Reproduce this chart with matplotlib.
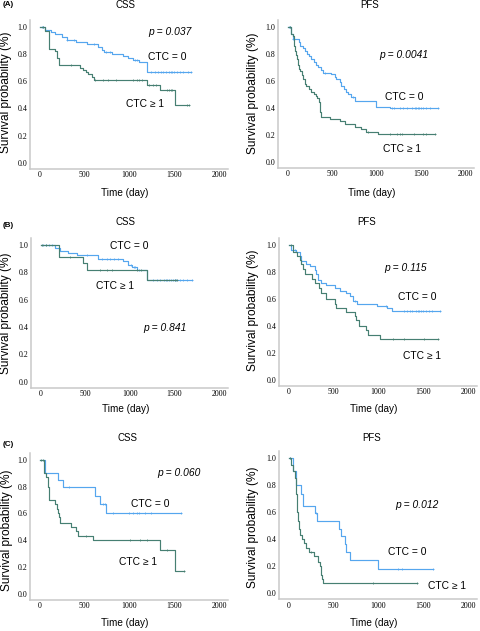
import numpy as np
import matplotlib
matplotlib.use("Agg")
import matplotlib.pyplot as plt

# ---------------- data ----------------
# (A) CSS
a_css0_t = [0, 60, 120, 170, 250, 300, 400, 530, 650, 690, 720, 800, 930, 980, 1040, 1110, 1200]
a_css0_s = [1.0, 0.975, 0.96, 0.945, 0.925, 0.905, 0.89, 0.87, 0.85, 0.83, 0.815, 0.80, 0.785, 0.77, 0.755, 0.74, 0.67]
a_css0_c = [20, 40, 300, 380, 600, 740, 780, 1060, 1080, 1240, 1280, 1320, 1350, 1380, 1410, 1440, 1460,
            1480, 1500, 1530, 1560, 1600, 1650, 1690]
a_css1_t = [0, 56, 104, 168, 190, 216, 447, 484, 514, 540, 577, 600, 1192, 1341, 1508]
a_css1_s = [1.0, 0.97, 0.84, 0.82, 0.77, 0.72, 0.70, 0.68, 0.665, 0.65, 0.63, 0.61, 0.575, 0.532, 0.426]
a_css1_c = [30, 350, 610, 700, 760, 850, 1040, 1080, 1110, 1140, 1220, 1260, 1300, 1420, 1440, 1460,
            1480, 1640, 1670]
# (A) PFS
a_pfs0_t = [0, 40, 57, 125, 143, 170, 189, 219, 245, 264, 291, 313, 340, 377, 396, 491, 528, 547, 585,
            604, 630, 660, 679, 717, 755, 1000, 1151]
a_pfs0_s = [1.0, 0.95, 0.91, 0.89, 0.86, 0.84, 0.82, 0.80, 0.78, 0.76, 0.74, 0.72, 0.70, 0.68, 0.66, 0.65,
            0.63, 0.61, 0.59, 0.56, 0.54, 0.52, 0.50, 0.48, 0.45, 0.41, 0.40]
a_pfs0_c = [15, 30, 60, 420, 740, 1170, 1200, 1260, 1300, 1350, 1400, 1440, 1450, 1470, 1480, 1500, 1520,
            1560, 1600, 1690]
a_pfs1_t = [0, 38, 57, 68, 75, 87, 94, 102, 113, 125, 140, 155, 170, 189, 208, 234, 264, 291, 313, 332,
            347, 358, 366, 374, 480, 585, 642, 755, 830, 879, 1019]
a_pfs1_s = [1.0, 0.95, 0.93, 0.90, 0.86, 0.82, 0.79, 0.76, 0.72, 0.69, 0.67, 0.64, 0.61, 0.58, 0.56, 0.54,
            0.52, 0.50, 0.49, 0.47, 0.44, 0.40, 0.37, 0.33, 0.32, 0.30, 0.28, 0.26, 0.24, 0.225, 0.21]
a_pfs1_c = [20, 900, 1150, 1230, 1260, 1290, 1420, 1530, 1560, 1660]
# (B) CSS
b_css0_t = [0, 160, 220, 300, 405, 645, 925, 980, 1020, 1080, 1187]
b_css0_s = [1.0, 0.975, 0.955, 0.94, 0.927, 0.90, 0.88, 0.855, 0.835, 0.82, 0.74]
b_css0_c = [30, 60, 90, 130, 520, 690, 740, 780, 820, 870, 1010, 1040, 1060, 1100, 1260, 1300, 1340,
            1380, 1400, 1420, 1440, 1460, 1480, 1500, 1520, 1560, 1600, 1640, 1700]
b_css1_t = [0, 205, 478, 522, 1187]
b_css1_s = [1.0, 0.91, 0.87, 0.82, 0.74]
b_css1_c = [10, 60, 330, 660, 740, 800, 1080, 1120, 1500, 1530]
# (B) PFS
b_pfs0_t = [0, 26, 82, 120, 138, 194, 232, 295, 307, 325, 363, 419, 512, 568, 643, 680, 712, 760, 979,
            1092, 1148]
b_pfs0_s = [1.0, 0.96, 0.95, 0.92, 0.88, 0.86, 0.84, 0.81, 0.78, 0.74, 0.72, 0.70, 0.68, 0.66, 0.64,
            0.62, 0.585, 0.565, 0.55, 0.53, 0.51]
b_pfs0_c = [70, 740, 1080, 1290, 1320, 1350, 1380, 1420, 1440, 1450, 1470, 1500, 1530, 1560, 1600, 1690]
b_pfs1_t = [0, 45, 90, 120, 138, 157, 175, 262, 290, 333, 363, 419, 512, 530, 636, 736, 755, 785, 860,
            878, 1017]
b_pfs1_s = [1.0, 0.95, 0.92, 0.89, 0.86, 0.82, 0.78, 0.75, 0.72, 0.68, 0.64, 0.60, 0.56, 0.53, 0.50,
            0.47, 0.44, 0.40, 0.37, 0.33, 0.30]
b_pfs1_c = [20, 1160, 1290, 1510, 1660]
# (C) CSS
c_css0_t = [0, 56, 204, 260, 613, 669, 743]
c_css0_s = [1.0, 0.90, 0.85, 0.80, 0.73, 0.67, 0.60]
c_css0_c = [320, 700, 730, 820, 1000, 1040, 1080, 1110, 1170, 1240, 1580]
c_css1_t = [0, 48, 74, 93, 104, 167, 186, 204, 216, 223, 353, 409, 428, 595, 1338, 1506]
c_css1_s = [1.0, 0.9, 0.87, 0.8, 0.7, 0.67, 0.63, 0.6, 0.57, 0.53, 0.5, 0.47, 0.43, 0.4, 0.33, 0.17]
c_css1_c = [15, 30, 513, 1010, 1120, 1200, 1420, 1610]
# (C) PFS
c_pfs0_t = [0, 45, 82, 131, 157, 288, 314, 557, 587, 624, 636, 680, 998]
c_pfs0_s = [1.0, 0.9, 0.8, 0.73, 0.64, 0.59, 0.53, 0.47, 0.42, 0.36, 0.30, 0.24, 0.18]
c_pfs0_c = [10, 300, 1222, 1260, 1607]
c_pfs1_t = [0, 26, 45, 64, 75, 82, 90, 93, 101, 112, 127, 150, 168, 194, 224, 277, 325, 344, 355, 363,
            370, 381]
c_pfs1_s = [1.0, 0.95, 0.9, 0.85, 0.8, 0.73, 0.67, 0.6, 0.53, 0.47, 0.43, 0.4, 0.37, 0.33, 0.3, 0.27,
            0.23, 0.2, 0.17, 0.13, 0.1, 0.07]
c_pfs1_c = [10, 250, 942, 1428]

titles = ["CSS", "PFS"]
panel_labels = ["(A)", "(B)", "(C)"]
p_values = ["p = 0.037", "p = 0.0041", "p = 0.841", "p = 0.115", "p = 0.060", "p = 0.012"]
group_labels = ["CTC = 0", "CTC \u2265 1"]
x_ticks = [0, 500, 1000, 1500, 2000]
y_ticks = [0.0, 0.2, 0.4, 0.6, 0.8, 1.0]

BLUE = "#55a6ee"
GREEN = "#467f72"
SANS = "Liberation Sans"
SERIF = "Liberation Serif"

W, H = 480, 631
fig = plt.figure(figsize=(W / 100, H / 100), dpi=100)
fig.patch.set_facecolor("white")


def add_ax(l, r, t, b):
    return fig.add_axes([l / W, 1 - b / H, (r - l) / W, (b - t) / H])


def km(ax, t, s, c, color):
    t = np.asarray(t, float)
    s = np.asarray(s, float)
    c = np.asarray(c, float)
    end = max(c.max(), t.max())
    tt = np.append(t, end)
    ss = np.append(s, s[-1])
    ax.plot(tt, ss, drawstyle="steps-post", color=color, lw=0.85)
    idx = np.searchsorted(t, c, side="right") - 1
    ax.plot(c, s[idx], ls="none", marker="+", ms=2.0, mew=0.55, color=color)


boxes = [(30, 228, 20, 169), (278, 474, 20, 168),
         (31, 228, 238, 388), (279, 477, 238, 386),
         (30, 228, 453, 600), (279, 477, 451, 599)]

curves = [
    ((a_css0_t, a_css0_s, a_css0_c), (a_css1_t, a_css1_s, a_css1_c)),
    ((a_pfs0_t, a_pfs0_s, a_pfs0_c), (a_pfs1_t, a_pfs1_s, a_pfs1_c)),
    ((b_css0_t, b_css0_s, b_css0_c), (b_css1_t, b_css1_s, b_css1_c)),
    ((b_pfs0_t, b_pfs0_s, b_pfs0_c), (b_pfs1_t, b_pfs1_s, b_pfs1_c)),
    ((c_css0_t, c_css0_s, c_css0_c), (c_css1_t, c_css1_s, c_css1_c)),
    ((c_pfs0_t, c_pfs0_s, c_pfs0_c), (c_pfs1_t, c_pfs1_s, c_pfs1_c)),
]

# annotation positions (p, CTC=0, CTC>=1) in data coords
ann = [
    ((1207, 0.963), (1207, 0.78), (961, 0.434)),
    ((1028, 0.79), (1096, 0.48), (1073, 0.096)),
    ((1146, 0.39), (775, 0.99), (618, 0.70)),
    ((1061, 0.83), (1218, 0.615), (1274, 0.18)),
    ((1307, 0.90), (1017, 0.67), (885, 0.24)),
    ((1184, 0.65), (1106, 0.30), (1553, 0.05)),
]

title_y = [5, 5, 222, 222, 438, 438]
title_x = [125, 370, 125, 367, 127, 372]
xlabel_y = [193, 193, 409, 409, 623, 623]
ylabel_x = [6, 253, 6, 253, 7, 253]
ylabel_y = [92, 93, 313, 310, 530, 527]

for i, box in enumerate(boxes):
    ax = add_ax(*box)
    (g0, g1) = curves[i]
    km(ax, *g0, BLUE)
    km(ax, *g1, GREEN)
    ax.set_xlim(-110, 2100)
    ax.set_ylim(-0.045, 1.05)
    ax.set_xticks(x_ticks)
    ax.set_yticks(y_ticks)
    ax.set_xticklabels([str(v) for v in x_ticks], family=SERIF, fontsize=5.7)
    ax.set_yticklabels(["%.1f" % v for v in y_ticks], family=SERIF, fontsize=5.7)
    ax.tick_params(length=0, pad=1.8)
    for sp in ["top", "right"]:
        ax.spines[sp].set_visible(False)
    for sp in ["left", "bottom"]:
        ax.spines[sp].set_color("#c9c9c9")
        ax.spines[sp].set_linewidth(1.1)
    pp, c0, c1 = ann[i]
    ax.text(pp[0], pp[1], p_values[i], family=SANS, style="italic", fontsize=7.4, va="center", ha="left")
    ax.text(c0[0], c0[1], group_labels[0], family=[SANS, "DejaVu Sans"], fontsize=7.4, va="center", ha="left")
    ax.text(c1[0], c1[1], group_labels[1], family=[SANS, "DejaVu Sans"], fontsize=7.4, va="center", ha="left")

    fig.text(title_x[i] / W, 1 - title_y[i] / H, titles[i % 2], family=SANS, fontsize=7,
             ha="center", va="center")
    cx = (box[0] + box[1]) / 2 - 4
    fig.text(cx / W, 1 - xlabel_y[i] / H, "Time (day)", family=SANS, fontsize=7.2,
             ha="center", va="center")
    fig.text(ylabel_x[i] / W, 1 - ylabel_y[i] / H, "Survival probability (%)", family=SANS,
             fontsize=8.6, rotation=90, ha="center", va="center")

for lbl, y in zip(panel_labels, [5, 225, 445]):
    fig.text(3 / W, 1 - y / H, lbl, family=SANS, fontsize=5.8, fontweight="bold", ha="left", va="center")

fig.savefig("out.png", dpi=100, facecolor="white")
